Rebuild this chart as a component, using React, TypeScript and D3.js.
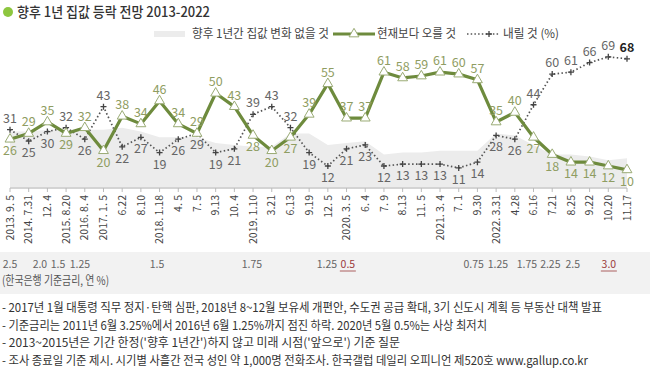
import React from 'react'
import * as d3 from 'd3'

const width = 650
const height = 371

// survey dates (x-axis)
const dates = [
  '2013. 9. 5', '2014. 7.31', '12. 4', '2015. 8.20', '2016. 8. 4', '2017. 1. 5', '6.22', '8.10',
  '2018. 1.18', '4. 5', '7. 5', '9.13', '10. 4', '2019. 1.10', '3.21', '6.13', '9.19', '12. 5',
  '2020. 3. 5', '6. 4', '7. 9', '8.13', '11. 5', '2021. 3. 4', '7. 1', '9.30', '2022. 3.31',
  '4.28', '6.16', '7.21', '8.25', '9.22', '10.20', '11.17',
]
// 현재보다 오를 것
const rise = [26, 29, 35, 29, 32, 20, 38, 34, 46, 34, 29, 50, 43, 28, 20, 27, 39, 55, 37, 37, 61, 58, 59, 61, 60, 57, 35, 40, 27, 18, 14, 14, 12, 10]
// 내릴 것
const fall = [31, 25, 30, 32, 26, 43, 22, 27, 19, 26, 29, 19, 21, 39, 43, 32, 19, 12, 21, 23, 12, 13, 13, 13, 11, 14, 28, 26, 44, 60, 61, 66, 69, 68]
// 향후 1년간 집값 변화 없을 것 (estimated from the grey area)
const same = [30, 30, 31, 31, 31, 31, 32, 30, 27, 27, 27, 24, 23, 22, 22, 29, 29, 23, 24, 25, 18, 19, 19, 20, 20, 20, 29, 28, 23, 18, 18, 17, 15, 16]
// label above (a) or below (b) the point
const risePos = 'baababaaaaaaabbbaaaaaaaaaaaabbbbbb'
const fallPos = 'abbababbbbbbbaaabbbbbbbbbbbbaaaaaa'

// 한국은행 기준금리, placed at (fractional) date index
const rateAt = [0, 1.6, 2.57, 3.74, 7.86, 12.94, 16.95, 18.07, 24.8, 26.1, 27.65, 28.9, 30.1, 32.03]
const rates = ['2.5', '2.0', '1.5', '1.25', '1.5', '1.75', '1.25', '0.5', '0.75', '1.25', '1.75', '2.25', '2.5', '3.0']
const rateMarked = [7, 13]

const notes = [
  '- 2017년 1월 대통령 직무 정지·탄핵 심판, 2018년 8~12월 보유세 개편안, 수도권 공급 확대, 3기 신도시 계획 등 부동산 대책 발표',
  '- 기준금리는 2011년 6월 3.25%에서 2016년 6월 1.25%까지 점진 하락. 2020년 5월 0.5%는 사상 최저치',
  "- 2013~2015년은 기간 한정('향후 1년간')하지 않고 미래 시점('앞으로') 기준 질문",
  '- 조사 종료일 기준 제시. 시기별 사흘간 전국 성인 약 1,000명 전화조사. 한국갤럽 데일리 오피니언 제520호 www.gallup.co.kr',
]
const noteWidths = [600, 485, 398, 586]

const font = '"Noto Sans CJK KR", "Noto Sans", sans-serif'
const green = '#6e8b3d'
const greenText = '#8f9d62'
const grayText = '#666'

export default function App() {
  const idx = d3.range(dates.length)
  const x = d3.scaleLinear().domain([0, dates.length - 1]).range([10, 627])
  const y = d3.scaleLinear().domain([0, 100]).range([189, -2.5])

  const area = d3.area<number>().x((d, i) => x(i)).y0(y(0)).y1(d => y(d))
  const line = d3.line<number>().x((d, i) => x(i)).y(d => y(d))
  const tri = d3.symbol().type(d3.symbolTriangle).size(42)()
  const plus = 'M-3,0H3M0,-3V3'

  return (
    <svg width={width} height={height} style={{position: 'absolute', left: 0, top: 0}} fontFamily={font}>
      <rect width={width} height={height} fill="#fff" />

      {/* title */}
      <circle cx={8} cy={12} r={5} fill="#8dc63f" />
      <text x={17} y={17} fontSize={14} fontWeight={500} fill="#333" textLength={193} lengthAdjust="spacingAndGlyphs">
        향후 1년 집값 등락 전망 2013-2022
      </text>

      {/* legend */}
      <rect x={154} y={31} width={31} height={6} fill="#ececec" />
      <text x={192} y={38} fontSize={12} fill="#444" textLength={137} lengthAdjust="spacingAndGlyphs">향후 1년간 집값 변화 없을 것</text>
      <line x1={333} x2={375} y1={34} y2={34} stroke={green} strokeWidth={3} />
      <path d={tri} transform="translate(354,34)" fill="#fff" stroke="#9aab75" strokeWidth={1} />
      <text x={377} y={38} fontSize={12} fill="#444" textLength={79} lengthAdjust="spacingAndGlyphs">현재보다 오를 것</text>
      <line x1={467} x2={500} y1={34} y2={34} stroke="#555" strokeWidth={1.6} strokeDasharray="1.5,2.2" />
      <path d={plus} transform="translate(489,34)" stroke="#444" strokeWidth={1.3} />
      <text x={503} y={38} fontSize={12} fill="#444" textLength={56} lengthAdjust="spacingAndGlyphs">내릴 것 (%)</text>

      {/* no change area */}
      <path d={area(same) || ''} fill="#ececec" />

      {/* x axis */}
      <line x1={x(0)} x2={x(dates.length - 1)} y1={188} y2={188} stroke="#bbb" />
      {idx.map(i => (
        <g key={'t' + i} transform={`translate(${x(i)},0)`}>
          <line y1={188} y2={192} stroke="#bbb" />
          <text transform="translate(0,195) rotate(-90)" dy="0.35em" textAnchor="end" fontSize={10.5} fill="#444">
            {dates[i]}
          </text>
        </g>
      ))}

      {/* fall line */}
      <path d={line(fall) || ''} fill="none" stroke="#555" strokeWidth={1.7} strokeDasharray="1.5,2.4" />
      {fall.map((v, i) => (
        <path key={'fp' + i} d={plus} transform={`translate(${x(i)},${y(v)})`} stroke="#444" strokeWidth={1.3} />
      ))}

      {/* rise line */}
      <path d={line(rise) || ''} fill="none" stroke={green} strokeWidth={3.2} strokeLinejoin="round" />
      {rise.map((v, i) => (
        <path key={'rp' + i} d={tri} transform={`translate(${x(i)},${y(v)})`} fill="#fff" stroke="#9aab75" strokeWidth={1} />
      ))}

      {/* labels */}
      {fall.map((v, i) => (
        <text key={'fl' + i} x={x(i)} y={fallPos[i] === 'a' ? y(v) - 7 : y(v) + 16} textAnchor="middle"
          fontSize={12.5} fill={i === fall.length - 1 ? '#222' : grayText} fontWeight={i === fall.length - 1 ? 600 : 400}>
          {v}
        </text>
      ))}
      {rise.map((v, i) => (
        <text key={'rl' + i} x={x(i)} y={risePos[i] === 'a' ? y(v) - 7 : y(v) + 16} textAnchor="middle"
          fontSize={12.5} fill={greenText}>
          {v}
        </text>
      ))}

      {/* interest rate band */}
      <rect x={0} y={252} width={width} height={42} fill="#f2f2f2" />
      {rates.map((r, i) => {
        const marked = rateMarked.includes(i)
        return (
          <g key={'r' + i}>
            <text x={x(rateAt[i])} y={268} textAnchor="middle" fontSize={10.5} fill={marked ? '#9b3b3b' : '#666'}>{r}</text>
            {marked && <line x1={x(rateAt[i]) - 8} x2={x(rateAt[i]) + 8} y1={271} y2={271} stroke="#9b3b3b" strokeWidth={0.8} />}
          </g>
        )
      })}
      <text x={2} y={285} fontSize={12} fill="#555" textLength={107} lengthAdjust="spacingAndGlyphs">(한국은행 기준금리, 연 %)</text>

      {/* notes */}
      {notes.map((n, i) => (
        <text key={'n' + i} x={2} y={312 + i * 17.5} fontSize={12} fill="#333" textLength={noteWidths[i]} lengthAdjust="spacingAndGlyphs">
          {n}
        </text>
      ))}
    </svg>
  )
}
